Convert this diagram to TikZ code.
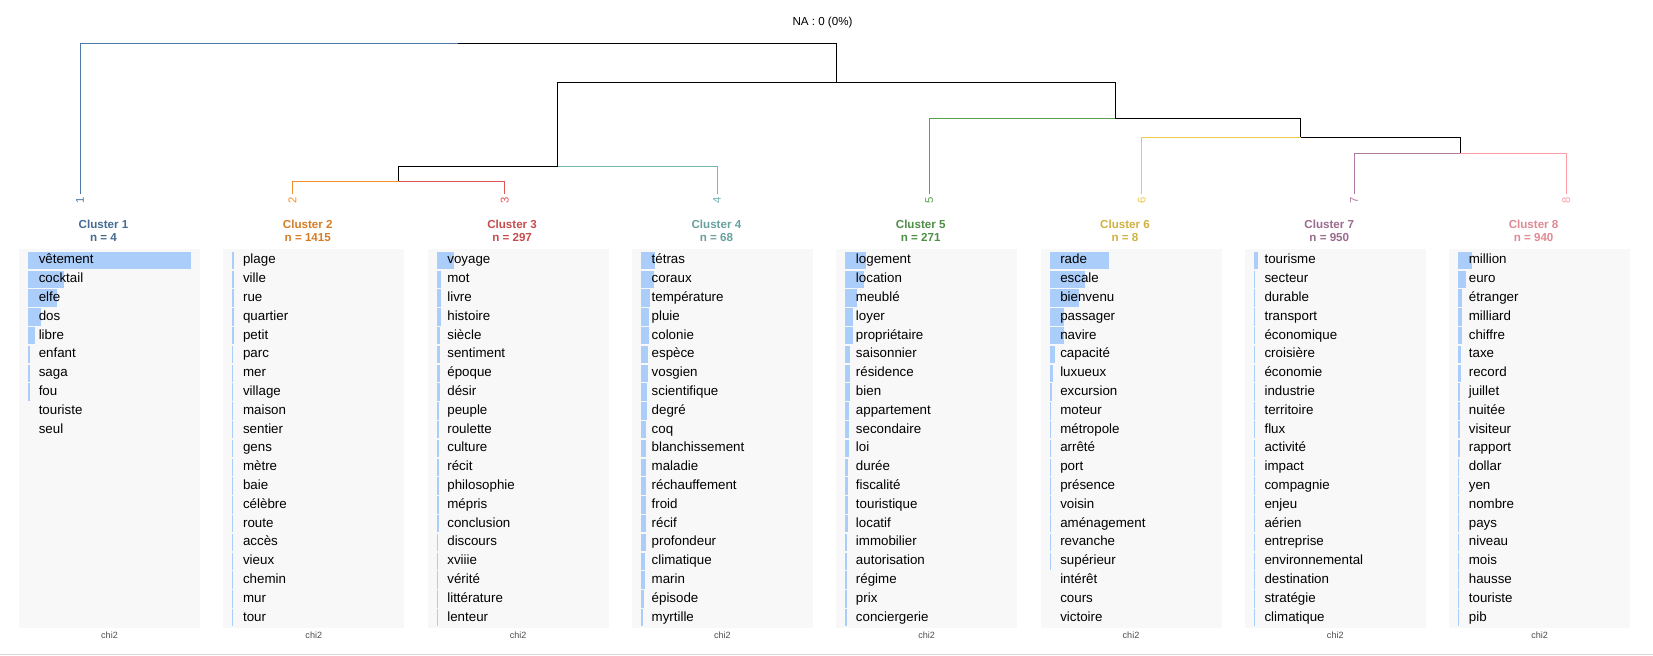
\documentclass[tikz,border=0pt]{standalone}
\usepackage{fontspec}
\setmainfont{Liberation Sans}
\definecolor{c1}{HTML}{4E79A7}
\definecolor{c2}{HTML}{F28E2B}
\definecolor{c3}{HTML}{E15759}
\definecolor{c4}{HTML}{76B7B2}
\definecolor{c5}{HTML}{59A14F}
\definecolor{c6}{HTML}{EDC948}
\definecolor{c7}{HTML}{B07AA1}
\definecolor{c8}{HTML}{FF9DA7}
\definecolor{bgpanel}{HTML}{F8F8F8}
\definecolor{barblue}{HTML}{ABCDF9}
\definecolor{chigray}{HTML}{4D4D4D}
\definecolor{rulegray}{HTML}{D9D9D9}
\tikzset{
  panelbg/.style={fill=bgpanel},
  bar/.style={fill=barblue},
  word/.style={anchor=west, inner sep=0pt, font=\fontsize{10}{12}\selectfont, text height=7.3pt, text depth=2.1pt},
  header/.style={inner sep=0pt, font=\bfseries\fontsize{8.7}{10}\selectfont},
  chilab/.style={inner sep=0pt, font=\fontsize{6.8}{8}\selectfont, text=chigray},
  leaflab/.style={inner sep=0pt, rotate=90, anchor=east, font=\fontsize{8.5}{10}\selectfont},
  natext/.style={inner sep=0pt, font=\fontsize{8.7}{10}\selectfont},
  branch/.style={line width=0.75pt},
  bottomrule/.style={draw=rulegray, line width=0.75pt},
}
\newcommand\clusterpanel[4]{%
  \pgfmathsetmacro\pl{19+204.3*(#1-1)}
  \fill[panelbg] (\pl,249) rectangle ++(181,379);
  \node[header,text=#2!88!black] (h#1) at (\pl+84.5,224) {Cluster #1};
  \node[header,text=#2!88!black] (nn#1) at (\pl+84.5,237.5) {n = #3};
  \foreach \bw/\wt [count=\k] in {#4} {
    \pgfmathsetmacro\yy{260.5+18.8*(\k-1)}
    \ifdim\bw pt>0pt \fill[bar] (\pl+9,\yy-8.7) rectangle ++(\bw,17.4);\fi
    \node[word] (w#1-\k) at (\pl+19.5,\yy) {\wt};
  }
  \node[chilab] (chi#1) at (\pl+90.5,635) {chi2};
}
\begin{document}
\begin{tikzpicture}[x=0.75pt,y=-0.75pt]
\useasboundingbox (0,0) rectangle (1653,656);
\fill[white] (0,0) rectangle (1653,656);
\node[natext] (na) at (822.5,23) {NA : 0 (0\%)};
% dendrogram coordinates
\coordinate (l1) at (80,194.5);
\coordinate (l2) at (292.33,194.5);
\coordinate (l3) at (504.67,194.5);
\coordinate (l4) at (717,194.5);
\coordinate (l5) at (929.33,194.5);
\coordinate (l6) at (1141.67,194.5);
\coordinate (l7) at (1354,194.5);
\coordinate (l8) at (1566.33,194.5);
\coordinate (d) at (398.5,182);
\coordinate (b) at (557.75,166.7);
\coordinate (f) at (1460.17,153.3);
\coordinate (e) at (1300.92,137.3);
\coordinate (c) at (1115.1,118.3);
\coordinate (a) at (836.4,83);
\coordinate (root) at (458.2,43.3);
\draw[branch,c1] (l1) |- (root);
\draw[branch,black] (a) |- (root);
\draw[branch,black] (b) |- (a);
\draw[branch,black] (c) |- (a);
\draw[branch,black] (d) |- (b);
\draw[branch,c4] (l4) |- (b);
\draw[branch,c2] (l2) |- (d);
\draw[branch,c3] (l3) |- (d);
\draw[branch,c5] (l5) |- (c);
\draw[branch,black] (e) |- (c);
\draw[branch,c6] (l6) |- (e);
\draw[branch,black] (f) |- (e);
\draw[branch,c7] (l7) |- (f);
\draw[branch,c8] (l8) |- (f);
% leaf labels
\node[leaflab,text=c1] (n1) at (80,196.5) {1};
\node[leaflab,text=c2] (n2) at (292.33,196.5) {2};
\node[leaflab,text=c3] (n3) at (504.67,196.5) {3};
\node[leaflab,text=c4] (n4) at (717,196.5) {4};
\node[leaflab,text=c5] (n5) at (929.33,196.5) {5};
\node[leaflab,text=c6] (n6) at (1141.67,196.5) {6};
\node[leaflab,text=c7] (n7) at (1354,196.5) {7};
\node[leaflab,text=c8] (n8) at (1566.33,196.5) {8};
% panels
\clusterpanel{1}{c1}{4}{163/vêtement, 36.3/cocktail, 29/elfe, 13.3/dos, 6.7/libre, 2/enfant, 2/saga, 1.5/fou, 0/touriste, 0/seul}
\clusterpanel{2}{c2}{1415}{1.7/plage, 1.2/ville, 1.2/rue, 1.2/quartier, 1.2/petit, 1/parc, 1/mer, 1/village, 0.8/maison, 0.8/sentier, 0.7/gens, 0.7/mètre, 0.6/baie, 0.6/célèbre, 0.6/route, 0.6/accès, 0.5/vieux, 0.5/chemin, 0.5/mur, 0.5/tour}
\clusterpanel{3}{c3}{297}{17/voyage, 4/mot, 4/livre, 4/histoire, 3.7/siècle, 3.5/sentiment, 3.3/époque, 3/désir, 2.5/peuple, 2.2/roulette, 2/culture, 2/récit, 2/philosophie, 2/mépris, 2/conclusion, 1.8/discours, 1.8/xviiie, 1.8/vérité, 1.8/littérature, 1.8/lenteur}
\clusterpanel{4}{c4}{68}{13.7/tétras, 13/coraux, 8.7/température, 8.5/pluie, 7.7/colonie, 7.5/espèce, 7/vosgien, 6.3/scientifique, 6/degré, 5.5/coq, 5.5/blanchissement, 5.3/maladie, 5/réchauffement, 5/froid, 5/récif, 4.7/profondeur, 4.3/climatique, 4/marin, 3.5/épisode, 2.3/myrtille}
\clusterpanel{5}{c5}{271}{21/logement, 18.3/location, 11.7/meublé, 7.7/loyer, 7.3/propriétaire, 5/saisonnier, 5/résidence, 5/bien, 4/appartement, 3.3/secondaire, 3.3/loi, 3/durée, 3/fiscalité, 3/touristique, 3/locatif, 2/immobilier, 2/autorisation, 1.5/régime, 1.5/prix, 1.5/conciergerie}
\clusterpanel{6}{c6}{8}{59/rade, 35.7/escale, 29/bienvenu, 14.7/passager, 14/navire, 5/capacité, 3.3/luxueux, 2/excursion, 1.7/moteur, 1.7/métropole, 1.5/arrêté, 1.5/port, 1.3/présence, 1.3/voisin, 1/aménagement, 0.5/revanche, 0.3/supérieur, 0/intérêt, 0/cours, 0/victoire}
\clusterpanel{7}{c7}{950}{3.7/tourisme, 1/secteur, 1/durable, 1/transport, 1/économique, 1/croisière, 1/économie, 0.8/industrie, 0.8/territoire, 0.7/flux, 0.7/activité, 0.7/impact, 0.6/compagnie, 0.6/enjeu, 0.6/aérien, 0.6/entreprise, 0.5/environnemental, 0.5/destination, 0.5/stratégie, 0.5/climatique}
\clusterpanel{8}{c8}{940}{13.7/million, 7.7/euro, 4.3/étranger, 3.7/milliard, 3.7/chiffre, 2.7/taxe, 2.7/record, 2/juillet, 2/nuitée, 2/visiteur, 1.5/rapport, 1.3/dollar, 1/yen, 1/nombre, 1/pays, 1/niveau, 1/mois, 1/hausse, 1/touriste, 1/pib}
\coordinate (bl) at (0,654.5);
\coordinate (br) at (1653,654.5);
\draw[bottomrule] (bl) -- (br);
\end{tikzpicture}
\end{document}
